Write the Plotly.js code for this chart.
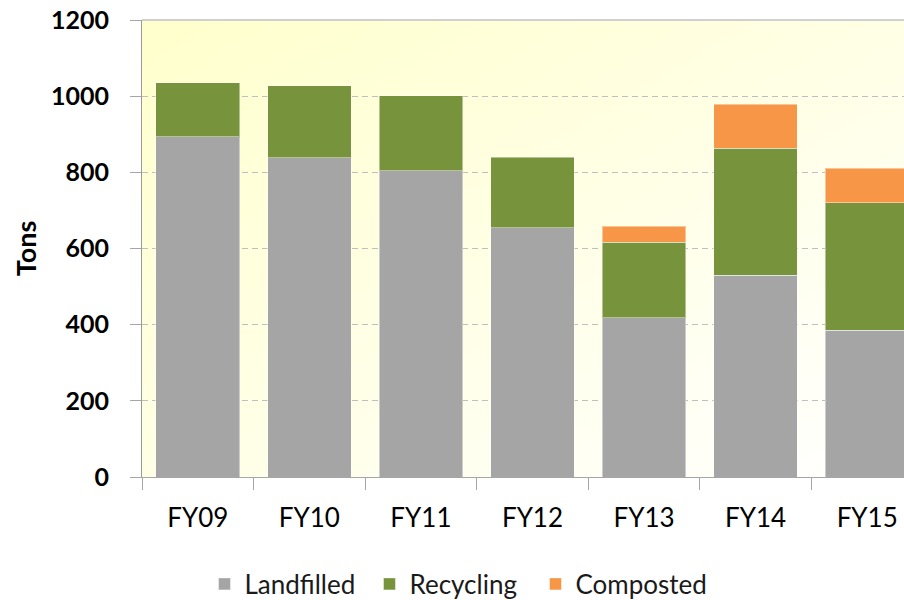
<!DOCTYPE html>
<html>
<head>
<meta charset="utf-8">
<script src="https://cdn.plot.ly/plotly-3.0.1.min.js"></script>
<style>html,body{margin:0;padding:0;background:#fff;}#chart{width:904px;height:600px;}</style>
</head>
<body>
<div id="chart"></div>
<script>
var categories = ["FY09", "FY10", "FY11", "FY12", "FY13", "FY14", "FY15"];
var landfilled = [893, 838, 804, 654, 418, 530, 385];
var recycling  = [142, 189, 197, 186, 199, 333, 335];
var composted  = [null, null, null, null, 42, 116, 91];
var yTicks = [0, 200, 400, 600, 800, 1000, 1200];

var font = "Lato, 'Open Sans', sans-serif";
var gradSvg = "<svg xmlns='http://www.w3.org/2000/svg' width='100' height='100' preserveAspectRatio='none'>" +
  "<defs><linearGradient id='g' x1='0' y1='0' x2='1' y2='1'>" +
  "<stop offset='0' stop-color='#FFFFCC'/><stop offset='1' stop-color='#FFFFFF'/></linearGradient></defs>" +
  "<rect width='100' height='100' fill='url(#g)'/></svg>";
var gradUri = "data:image/svg+xml;charset=utf-8," + encodeURIComponent(gradSvg);

var barLine = {color: "rgba(255,255,255,0.45)", width: 1};
var traces = [
  {type: "bar", name: "Landfilled", x: categories, y: landfilled, marker: {color: "#A5A5A5", line: barLine}, legend: "legend"},
  {type: "bar", name: "Recycling", x: categories, y: recycling, marker: {color: "#77933C", line: barLine}, legend: "legend"},
  {type: "bar", name: "Composted", x: categories, y: composted, marker: {color: "#F79646", line: barLine}, legend: "legend2"}
];

var legendFont = {family: font, size: 26, color: "#1A1A1A"};
var layout = {
  width: 904, height: 600,
  margin: {l: 142, r: 0, t: 20, b: 123, autoexpand: false},
  barmode: "stack",
  bargap: 0.25,
  paper_bgcolor: "#FFFFFF",
  plot_bgcolor: "rgba(0,0,0,0)",
  font: {family: font, color: "#000000"},
  images: [{source: gradUri, xref: "paper", yref: "paper", x: 0, y: 1, sizex: 1, sizey: 1,
            sizing: "stretch", xanchor: "left", yanchor: "top", layer: "below"}],
  shapes: [{type: "line", xref: "paper", yref: "paper", x0: 0, x1: 1, y0: 1, y1: 1,
            line: {color: "#D0D0D0", width: 2}, layer: "above"}],
  xaxis: {
    type: "category",
    range: [-0.5, 6.33],
    showgrid: false,
    showline: true, linecolor: "#A6A6A6", linewidth: 1,
    ticks: "outside", tickson: "boundaries", ticklen: 12, tickcolor: "#A6A6A6",
    tickfont: {family: font, size: 26, color: "#000000"},
    ticklabelstandoff: 18,
    fixedrange: true
  },
  yaxis: {
    range: [0, 1200],
    tickvals: yTicks,
    showgrid: true, gridcolor: "#BFBFBF", gridwidth: 1, griddash: "6px,4px",
    zeroline: false,
    showline: true, linecolor: "#9A9A9A", linewidth: 1,
    ticks: "outside", ticklen: 11, tickcolor: "#A6A6A6",
    tickfont: {family: font, size: 25, color: "#000000", weight: "bold"},
    ticklabelstandoff: 16,
    title: {text: "<b>Tons</b>", font: {family: font, size: 27, color: "#000000"}, standoff: 6},
    fixedrange: true
  },
  showlegend: true,
  legend: {
    orientation: "h",
    x: 0.082, xanchor: "left",
    y: -0.2341, yanchor: "middle",
    entrywidth: 120,
    font: legendFont,
    traceorder: "normal",
    bgcolor: "rgba(0,0,0,0)"
  },
  legend2: {
    orientation: "h",
    x: 0.5164, xanchor: "left",
    y: -0.2341, yanchor: "middle",
    font: legendFont,
    bgcolor: "rgba(0,0,0,0)"
  }
};

Plotly.newPlot("chart", traces, layout, {displayModeBar: false, staticPlot: true});
</script>
</body>
</html>
